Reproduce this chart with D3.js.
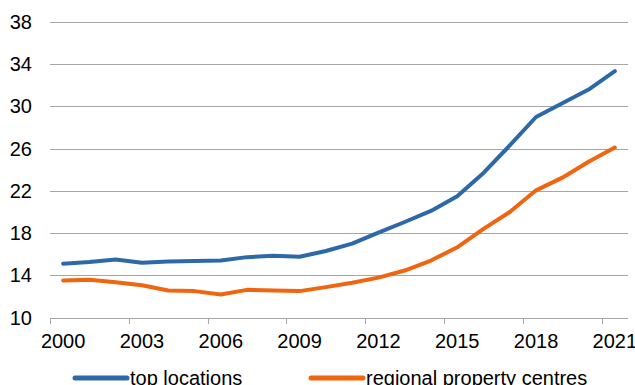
<!DOCTYPE html>
<html>
<head>
<meta charset="utf-8">
<script src="https://cdn.jsdelivr.net/npm/d3@7"></script>
<style>
  html, body { margin: 0; padding: 0; background: #fff; }
  svg { display: block; font-family: "Liberation Sans", Arial, sans-serif; }
</style>
</head>
<body>
<svg id="chart" width="635" height="385"></svg>
<script>
// Years on the category axis
const years = d3.range(2000, 2022);
// Series values
const topLocations = [15.1, 15.25, 15.5, 15.18, 15.3, 15.36, 15.4, 15.72, 15.85, 15.75, 16.3, 17.0,
  18.05, 19.05, 20.1, 21.5, 23.7, 26.3, 29.0, 30.3, 31.6, 33.35];
const regionalCentres = [13.5, 13.57, 13.35, 13.05, 12.56, 12.5, 12.18, 12.62, 12.55, 12.5, 12.88, 13.3,
  13.78, 14.45, 15.4, 16.65, 18.4, 20.0, 22.05, 23.25, 24.75, 26.1];
// Axis labels
const yTicks = [10, 14, 18, 22, 26, 30, 34, 38];
const xTickYears = [2000, 2003, 2006, 2009, 2012, 2015, 2018, 2021];
const seriesNames = ["top locations", "regional property centres"];
const seriesColors = ["#2d69a8", "#f0650f"];

(function draw() {
  const svg = d3.select("#chart");
  const plotLeft = 50, plotRight = 628, plotTop = 22, plotBottom = 317.5;

  const x = d3.scaleBand().domain(years).range([plotLeft, plotRight]).padding(0);
  const y = d3.scaleLinear().domain([10, 38]).range([plotBottom, plotTop]);

  // Horizontal gridlines
  svg.append("g").selectAll("line")
    .data(yTicks.filter(d => d > 10))
    .join("line")
    .attr("x1", plotLeft).attr("x2", plotRight)
    .attr("y1", d => Math.round(y(d)) + 0.5).attr("y2", d => Math.round(y(d)) + 0.5)
    .attr("stroke", "#a6a6a6").attr("stroke-width", 1);

  // Y labels
  svg.append("g").selectAll("text")
    .data(yTicks)
    .join("text")
    .attr("x", 32).attr("y", d => y(d) + 7)
    .attr("text-anchor", "end")
    .attr("font-size", 20).attr("fill", "#000")
    .text(d => d);

  // X axis line and tick marks at category boundaries
  svg.append("line")
    .attr("x1", plotLeft).attr("x2", plotRight)
    .attr("y1", Math.round(plotBottom) + 0.5).attr("y2", Math.round(plotBottom) + 0.5)
    .attr("stroke", "#a6a6a6");
  svg.append("g").selectAll("line")
    .data(xTickYears)
    .join("line")
    .attr("x1", d => Math.round(x(d)) + 0.5).attr("x2", d => Math.round(x(d)) + 0.5)
    .attr("y1", Math.round(plotBottom)).attr("y2", Math.round(plotBottom) + 6)
    .attr("stroke", "#a6a6a6");

  // X labels centred on categories
  svg.append("g").selectAll("text")
    .data(xTickYears)
    .join("text")
    .attr("x", d => x(d) + x.bandwidth() / 2).attr("y", 348)
    .attr("text-anchor", "middle")
    .attr("font-size", 20).attr("fill", "#000")
    .text(d => d);

  // Lines
  const line = d3.line()
    .x((d, i) => x(years[i]) + x.bandwidth() / 2)
    .y(d => y(d));

  [topLocations, regionalCentres].forEach((vals, k) => {
    svg.append("path")
      .datum(vals)
      .attr("d", line)
      .attr("fill", "none")
      .attr("stroke", seriesColors[k])
      .attr("stroke-width", 4)
      .attr("stroke-linejoin", "round")
      .attr("stroke-linecap", "round");
  });

  // Legend
  const legendItems = [{ x1: 75, x2: 127, tx: 130 }, { x1: 311, x2: 363, tx: 366 }];
  legendItems.forEach((it, k) => {
    svg.append("line")
      .attr("x1", it.x1).attr("x2", it.x2)
      .attr("y1", 378).attr("y2", 378)
      .attr("stroke", seriesColors[k]).attr("stroke-width", 5)
      .attr("stroke-linecap", "round");
    svg.append("text")
      .attr("x", it.tx).attr("y", 385)
      .attr("font-size", 20).attr("fill", "#000")
      .text(seriesNames[k]);
  });
})();
</script>
</body>
</html>
